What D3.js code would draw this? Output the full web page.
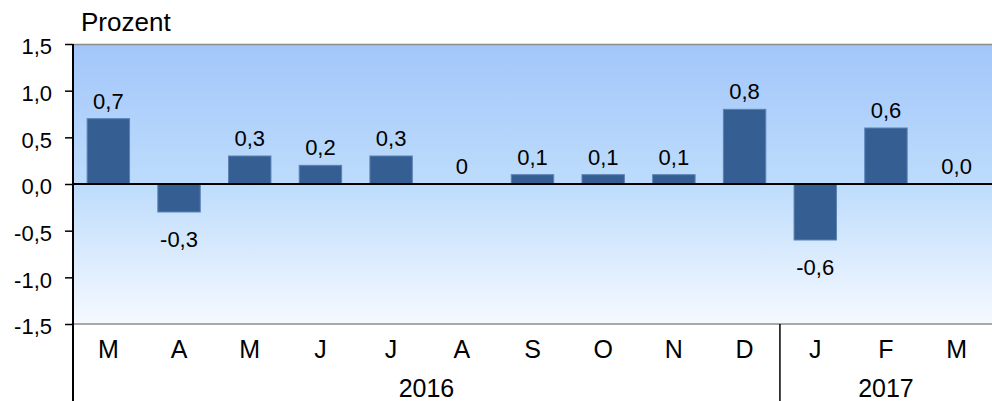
<!DOCTYPE html>
<html>
<head>
<meta charset="utf-8">
<script src="https://cdn.jsdelivr.net/npm/d3@7"></script>
<style>
  body { margin: 0; background: #fff; }
  text { font-family: "Liberation Sans", Arial, sans-serif; fill: #000; }
</style>
</head>
<body>
<div id="chart"></div>
<script>
var months = ["M", "A", "M", "J", "J", "A", "S", "O", "N", "D", "J", "F", "M"];
var values = [0.7, -0.3, 0.3, 0.2, 0.3, 0, 0.1, 0.1, 0.1, 0.8, -0.6, 0.6, 0];
var valueLabels = ["0,7", "-0,3", "0,3", "0,2", "0,3", "0", "0,1", "0,1", "0,1", "0,8", "-0,6", "0,6", "0,0"];
var years = [{label: "2016", from: 0, to: 10}, {label: "2017", from: 10, to: 13}];
var yTicks = [1.5, 1.0, 0.5, 0.0, -0.5, -1.0, -1.5];

var width = 992, height = 401;
var margin = {top: 44, right: 0, bottom: 77, left: 73};
var innerW = width - margin.left - margin.right,
    innerH = height - margin.top - margin.bottom;

var svg = d3.select("#chart").append("svg")
    .attr("width", width)
    .attr("height", height);

var defs = svg.append("defs");
var grad = defs.append("linearGradient").attr("id", "bg")
    .attr("x1", "0%").attr("x2", "0%").attr("y1", "0%").attr("y2", "100%");
grad.append("stop").attr("offset", "0%").attr("stop-color", "#a3c6fa");
grad.append("stop").attr("offset", "50%").attr("stop-color", "#bddcfc");
grad.append("stop").attr("offset", "100%").attr("stop-color", "#f6f9ff");

var g = svg.append("g")
    .attr("transform", "translate(" + margin.left + "," + margin.top + ")");

var x = d3.scaleBand()
    .domain(d3.range(months.length))
    .range([0, innerW])
    .paddingInner(0.4)
    .paddingOuter(0.2);

var y = d3.scaleLinear()
    .domain([-1.5, 1.5])
    .range([innerH, 0]);

var step = x.step();

g.append("rect")
    .attr("width", innerW)
    .attr("height", innerH)
    .attr("fill", "url(#bg)");

// top and bottom border lines
g.append("line").attr("x1", 0).attr("x2", innerW).attr("y1", 0.5).attr("y2", 0.5)
    .attr("stroke", "#8c8c8c").attr("stroke-width", 1.5);
g.append("line").attr("x1", 0).attr("x2", innerW).attr("y1", innerH).attr("y2", innerH)
    .attr("stroke", "#8c8c8c").attr("stroke-width", 1.5);

// bars
g.selectAll(".bar")
    .data(values)
    .enter().append("rect")
    .attr("class", "bar")
    .attr("x", function(d, i) { return x(i); })
    .attr("width", x.bandwidth())
    .attr("y", function(d) { return y(Math.max(d, 0)); })
    .attr("height", function(d) { return Math.abs(y(d) - y(0)); })
    .attr("fill", "#355f92")
    .attr("stroke", "#5b82b5")
    .attr("stroke-width", 1);

// zero line
g.append("line")
    .attr("x1", 0).attr("x2", innerW)
    .attr("y1", y(0)).attr("y2", y(0))
    .attr("stroke", "#000").attr("stroke-width", 2);

// value labels
g.selectAll(".vlabel")
    .data(values)
    .enter().append("text")
    .attr("class", "vlabel")
    .attr("x", function(d, i) { return x(i) + x.bandwidth() / 2; })
    .attr("y", function(d) { return d < 0 ? y(d) + 35 : y(d) - 10; })
    .attr("text-anchor", "middle")
    .style("font-size", "22px")
    .text(function(d, i) { return valueLabels[i]; });

// y axis
var yAxis = d3.axisLeft(y)
    .tickValues(yTicks)
    .tickSize(8)
    .tickFormat(function(d) { return d3.format(".1f")(d).replace(".", ",").replace("−", "-"); });

var ya = g.append("g").call(yAxis);
ya.select(".domain").remove();
ya.selectAll(".tick line").attr("stroke", "#000").attr("stroke-width", 1.5);
ya.selectAll(".tick text")
    .attr("x", -21)
    .attr("dy", "0.45em")
    .style("font-size", "22px")
    .style("font-family", "Liberation Sans, Arial, sans-serif")
    .attr("fill", "#000");

// left axis line down to bottom
g.append("line")
    .attr("x1", 0).attr("x2", 0)
    .attr("y1", 0).attr("y2", height - margin.top)
    .attr("stroke", "#000").attr("stroke-width", 2);

// month labels
g.selectAll(".mlabel")
    .data(months)
    .enter().append("text")
    .attr("class", "mlabel")
    .attr("x", function(d, i) { return x(i) + x.bandwidth() / 2; })
    .attr("y", innerH + 34)
    .attr("text-anchor", "middle")
    .style("font-size", "25px")
    .text(function(d) { return d; });

// year separators and labels
g.selectAll(".ysep")
    .data(years.slice(1))
    .enter().append("line")
    .attr("x1", function(d) { return d.from * step; })
    .attr("x2", function(d) { return d.from * step; })
    .attr("y1", innerH)
    .attr("y2", height - margin.top)
    .attr("stroke", "#000").attr("stroke-width", 1.5);

g.selectAll(".ylabel")
    .data(years)
    .enter().append("text")
    .attr("class", "ylabel")
    .attr("x", function(d) { return (d.from + d.to) / 2 * step; })
    .attr("y", innerH + 73)
    .attr("text-anchor", "middle")
    .style("font-size", "25px")
    .text(function(d) { return d.label; });

svg.append("text")
    .attr("x", 81)
    .attr("y", 31)
    .style("font-size", "26px")
    .text("Prozent");
</script>
</body>
</html>
